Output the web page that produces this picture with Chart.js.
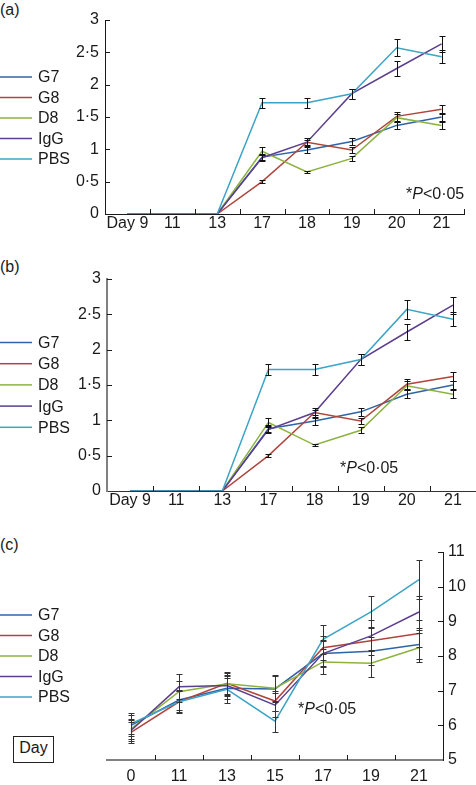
<!DOCTYPE html>
<html>
<head>
<meta charset="utf-8">
<title>Disease score and weight</title>
<script src="https://cdn.jsdelivr.net/npm/chart.js@4.4.1/dist/chart.umd.min.js"></script>
<style>
  html, body { margin: 0; padding: 0; background: #fff; }
  body {
    width: 476px; height: 785px; position: relative; overflow: hidden;
    font-family: "Liberation Sans", Arial, sans-serif; color: #1a1a1a;
  }
  canvas { position: absolute; left: 0; }
  .tag { position: absolute; left: 0; font-size: 16px; line-height: 16px; }
  #dayBox {
    position: absolute; left: 13px; top: 736px; width: 41px; height: 27px;
    box-sizing: border-box; border: 1px solid #222; font-size: 16px;
    line-height: 22px; text-align: center;
  }
</style>
</head>
<body>
<div class="tag" style="top:2px">(a)</div>
<div class="tag" style="top:259px">(b)</div>
<div class="tag" style="top:537px">(c)</div>
<div id="dayBox">Day</div>
<canvas id="chartA" width="476" height="240" style="top:0"></canvas>
<canvas id="chartB" width="476" height="260" style="top:260px"></canvas>
<canvas id="chartC" width="476" height="265" style="top:520px"></canvas>
<script>
// panels (a) and (b): clinical score
const daysAB = ['Day 9', '11', '13', '17', '18', '19', '20', '21'];
const yTicksAB = ['0', '0·5', '1', '1·5', '2', '2·5', '3'];
const g7AB  = [0, 0, 0, 0.88, 0.99, 1.12, 1.37, 1.50];
const g8AB  = [0, 0, 0, 0.50, 1.11, 0.99, 1.51, 1.62];
const d8AB  = [0, 0, 0, 0.97, 0.65, 0.86, 1.49, 1.37];
const iggAB = [0, 0, 0, 0.87, 1.11, 1.86, 2.25, 2.63];
const pbsAB = [0, 0, 0, 1.72, 1.72, 1.86, 2.57, 2.43];
const g7ErrAB  = [0, 0, 0, 0.05, 0.05, 0.06, 0.06, 0.06];
const g8ErrAB  = [0, 0, 0, 0.02, 0.04, 0.04, 0.07, 0.07];
const d8ErrAB  = [0, 0, 0, 0.06, 0.02, 0.04, 0.06, 0.06];
const iggErrAB = [0, 0, 0, 0.05, 0.06, 0.08, 0.11, 0.12];
const pbsErrAB = [0, 0, 0, 0.08, 0.08, 0.08, 0.13, 0.10];

// panel (c)
const daysC = ['0', '11', '13', '15', '17', '19', '21'];
const yTicksC = ['5', '6', '7', '8', '9', '10', '11'];
const g7C  = [6.00, 6.73, 7.07, 7.05, 8.07, 8.14, 8.33];
const g8C  = [5.80, 6.68, 7.21, 6.70, 8.24, 8.44, 8.65];
const d8C  = [5.90, 6.97, 7.20, 7.07, 7.83, 7.79, 8.24];
const iggC = [5.85, 7.11, 7.15, 6.58, 8.07, 8.58, 9.27];
const pbsC = [6.05, 6.68, 7.04, 6.12, 8.48, 9.27, 10.20];
const g7ErrC  = [0.30, 0.30, 0.30, 0.38, 0.35, 0.40, 0.42];
const g8ErrC  = [0.30, 0.30, 0.34, 0.30, 0.35, 0.40, 0.40];
const d8ErrC  = [0.28, 0.30, 0.30, 0.38, 0.36, 0.39, 0.42];
const iggErrC = [0.30, 0.36, 0.30, 0.35, 0.40, 0.45, 0.47];
const pbsErrC = [0.30, 0.32, 0.39, 0.30, 0.41, 0.46, 0.57];

const seriesNames = ['G7', 'G8', 'D8', 'IgG', 'PBS'];
const seriesColors = ['#2f64a8', '#b0453c', '#8cb33e', '#5c3f8e', '#3ca4c6'];

Chart.defaults.font.family = '"Liberation Sans", Arial, sans-serif';
Chart.defaults.font.size = 16;
Chart.defaults.color = '#1a1a1a';

// short tick marks pointing into the plot
const insideTicks = {
  id: 'insideTicks',
  afterDraw(chart, args, opts) {
    const ctx = chart.ctx;
    const x = chart.scales.x, y = chart.scales.y;
    const area = chart.chartArea;
    const n = chart.data.labels.length;
    const step = x.getPixelForValue(1) - x.getPixelForValue(0);
    ctx.save();
    ctx.lineWidth = 1;
    ctx.strokeStyle = opts.color;
    for (let i = 1; i <= n; i++) {
      if (i === n && opts.skipLast) continue;
      const px = Math.round(x.getPixelForValue(i - 1) + step / 2) + 0.5;
      ctx.beginPath();
      ctx.moveTo(px, area.bottom);
      ctx.lineTo(px, area.bottom - opts.len);
      ctx.stroke();
    }
    const right = y.position === 'right';
    const ax = right ? area.right : area.left;
    const dir = right ? -1 : 1;
    y.ticks.forEach(t => {
      if (t.value === y.min) return;
      const py = Math.round(y.getPixelForValue(t.value)) + 0.5;
      ctx.beginPath();
      ctx.moveTo(ax, py);
      ctx.lineTo(ax + dir * opts.len, py);
      ctx.stroke();
    });
    ctx.restore();
  }
};

const errorBars = {
  id: 'errorBars',
  afterDatasetsDraw(chart, args, opts) {
    const ctx = chart.ctx, y = chart.scales.y;
    ctx.save();
    ctx.strokeStyle = opts.color;
    ctx.lineWidth = 1;
    chart.data.datasets.forEach((ds, di) => {
      const meta = chart.getDatasetMeta(di);
      ds.errors.forEach((e, i) => {
        if (!e) return;
        const px = Math.round(meta.data[i].x) + 0.5;
        const top = Math.round(y.getPixelForValue(ds.data[i] + e)) + 0.5;
        const bot = Math.round(y.getPixelForValue(ds.data[i] - e)) + 0.5;
        ctx.beginPath();
        ctx.moveTo(px, top); ctx.lineTo(px, bot);
        ctx.moveTo(px - opts.cap, top); ctx.lineTo(px + opts.cap, top);
        ctx.moveTo(px - opts.cap, bot); ctx.lineTo(px + opts.cap, bot);
        ctx.stroke();
      });
    });
    ctx.restore();
  }
};

const sideLegend = {
  id: 'sideLegend',
  afterDraw(chart, args, opts) {
    const ctx = chart.ctx;
    ctx.save();
    ctx.font = '16px "Liberation Sans", Arial, sans-serif';
    ctx.textBaseline = 'middle';
    chart.data.datasets.forEach((ds, i) => {
      const yy = opts.top + i * opts.gap;
      ctx.strokeStyle = ds.borderColor;
      ctx.lineWidth = 1.5;
      ctx.beginPath();
      ctx.moveTo(0, yy); ctx.lineTo(32, yy);
      ctx.stroke();
      ctx.fillStyle = '#1a1a1a';
      ctx.fillText(ds.label, 38, yy + 1);
    });
    ctx.restore();
  }
};

const pNote = {
  id: 'pNote',
  afterDraw(chart, args, opts) {
    const ctx = chart.ctx;
    ctx.save();
    ctx.fillStyle = '#1a1a1a';
    ctx.textBaseline = 'alphabetic';
    let x = opts.x;
    const parts = [['*', ''], ['P', 'italic '], ['<0·05', '']];
    parts.forEach(([txt, style]) => {
      ctx.font = style + '16px "Liberation Sans", Arial, sans-serif';
      ctx.fillText(txt, x, opts.y);
      x += ctx.measureText(txt).width;
    });
    ctx.restore();
  }
};

function makeChart(id, labels, series, errs, yTickLabels, cfg) {
  const datasets = series.map((data, i) => ({
    label: seriesNames[i],
    data: data,
    errors: errs[i],
    borderColor: seriesColors[i],
    backgroundColor: seriesColors[i],
    borderWidth: 1.5,
    pointRadius: 0,
    tension: 0,
    fill: false,
    order: series.length - 1 - i
  }));
  return new Chart(document.getElementById(id), {
    type: 'line',
    data: { labels: labels, datasets: datasets },
    options: {
      responsive: false,
      animation: false,
      layout: { padding: cfg.padding },
      plugins: {
        legend: { display: false },
        tooltip: { enabled: false },
        insideTicks: { color: '#1a1a1a', len: 5, skipLast: cfg.skipLast },
        errorBars: { color: cfg.errColor, cap: 3 },
        sideLegend: { top: cfg.legendTop, gap: cfg.legendGap },
        pNote: cfg.note
      },
      scales: {
        x: {
          type: 'category',
          offset: true,
          grid: { display: false, drawTicks: false, offset: true },
          border: { color: cfg.xBorder, width: cfg.xBorderWidth },
          ticks: { padding: cfg.xPad, maxRotation: 0, autoSkip: false },
          afterFit(s) { s.height = cfg.xHeight; }
        },
        y: {
          position: cfg.yPos,
          min: cfg.yMin,
          max: cfg.yMax,
          grid: { display: false, drawTicks: false },
          border: { color: cfg.yBorder, width: cfg.yBorderWidth },
          ticks: {
            stepSize: cfg.yStep,
            padding: cfg.yPad,
            callback: (v, i) => yTickLabels[i]
          },
          afterFit(s) { s.width = cfg.yWidth; }
        }
      }
    },
    plugins: [errorBars, insideTicks, sideLegend, pNote]
  });
}

makeChart('chartA', daysAB,
  [g7AB, g8AB, d8AB, iggAB, pbsAB],
  [g7ErrAB, g8ErrAB, d8ErrAB, iggErrAB, pbsErrAB], yTicksAB, {
    padding: { left: 65, right: 12, top: 20, bottom: 0 },
    yWidth: 40, xHeight: 26, yPos: 'left', yMin: 0, yMax: 3, yStep: 0.5,
    xBorder: '#1a1a1a', xBorderWidth: 1, yBorder: '#1a1a1a', yBorderWidth: 1,
    xPad: 0, yPad: 6, skipLast: false, errColor: '#111',
    legendTop: 77, legendGap: 20.5, note: { x: 406, y: 199 }
  });

makeChart('chartB', daysAB,
  [g7AB, g8AB, d8AB, iggAB, pbsAB],
  [g7ErrAB, g8ErrAB, d8ErrAB, iggErrAB, pbsErrAB], yTicksAB, {
    padding: { left: 67, right: 0, top: 19, bottom: 3 },
    yWidth: 40, xHeight: 26, yPos: 'left', yMin: 0, yMax: 3, yStep: 0.5,
    xBorder: '#333', xBorderWidth: 1, yBorder: '#808080', yBorderWidth: 2,
    xPad: 0, yPad: 6, skipLast: false, errColor: '#111',
    legendTop: 82.5, legendGap: 21.2, note: { x: 340, y: 212.5 }
  });

makeChart('chartC', daysC,
  [g7C, g8C, d8C, iggC, pbsC],
  [g7ErrC, g8ErrC, d8ErrC, iggErrC, pbsErrC], yTicksC, {
    padding: { left: 107, right: 0, top: 32, bottom: 0 },
    yWidth: 33, xHeight: 25, yPos: 'right', yMin: 5, yMax: 11, yStep: 1,
    xBorder: '#808080', xBorderWidth: 2, yBorder: '#1a1a1a', yBorderWidth: 1,
    xPad: 7, yPad: 5, skipLast: true, errColor: '#333',
    legendTop: 95, legendGap: 20.5, note: { x: 298, y: 194 }
  });
</script>
</body>
</html>
